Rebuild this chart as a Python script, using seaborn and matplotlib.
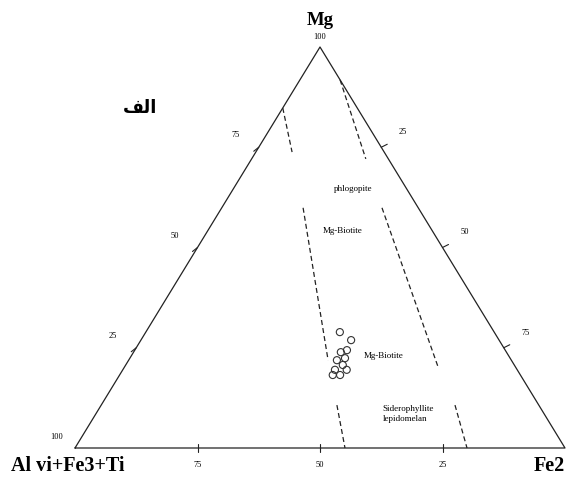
import numpy as np
import pandas as pd
import matplotlib
matplotlib.use("Agg")
import matplotlib.pyplot as plt
import seaborn as sns

# --- ternary data (fractions of Mg, Fe2; Al vi+Fe3+Ti is the remainder) ---
sample_mg = [0.289, 0.269, 0.244, 0.239, 0.224, 0.219, 0.207, 0.195, 0.195, 0.182, 0.182]
sample_fe = [0.396, 0.429, 0.433, 0.423, 0.439, 0.425, 0.443, 0.433, 0.457, 0.450, 0.435]

# field boundaries: (Mg, Fe2) at start and end of each dashed line
boundary_names = ["b1", "b2", "b3", "b4", "b5", "b6"]
boundary_mg_start = [0.848, 0.918, 0.599, 0.599, 0.107, 0.107]
boundary_fe_start = [0.000, 0.082, 0.166, 0.327, 0.481, 0.722]
boundary_mg_end = [0.738, 0.721, 0.219, 0.202, 0.000, 0.000]
boundary_fe_end = [0.074, 0.233, 0.407, 0.640, 0.551, 0.800]

field_labels = ["phlogopite", "Mg-Biotite", "Mg-Biotite", "Siderophyllite\nlepidomelan"]
field_mg = [0.645, 0.54, 0.23, 0.085]
field_fe = [0.205, 0.235, 0.475, 0.585]

tick_values = [75, 50, 25]


def to_xy(mg, fe):
    mg = np.asarray(mg, float)
    fe = np.asarray(fe, float)
    return fe + mg / 2.0, mg


sns.set_theme(style="white")
plt.rcParams["font.family"] = ["Liberation Serif", "DejaVu Serif"]
plt.rcParams["text.color"] = "black"

fig = plt.figure(figsize=(5.76, 4.82), dpi=100)
ax = fig.add_axes([0, 0, 1, 1])
ax.set_xlim(-75 / 490, (576 - 75) / 490)
ax.set_ylim(-(482 - 448) / 401, 448 / 401)
ax.axis("off")

px = 1 / 490  # one pixel in x data units
py = 1 / 401  # one pixel in y data units

# triangle outline
tri = pd.DataFrame({"x": [0, 0.5, 1, 0], "y": [0, 1, 0, 0], "o": range(4)})
sns.lineplot(data=tri, x="x", y="y", sort=False, estimator=None, color="#222222",
             lw=0.9, ax=ax)

# dashed field boundaries
rows = []
for n, m0, f0, m1, f1 in zip(boundary_names, boundary_mg_start, boundary_fe_start,
                             boundary_mg_end, boundary_fe_end):
    x0, y0 = to_xy(m0, f0)
    x1, y1 = to_xy(m1, f1)
    rows += [{"line": n, "x": float(x0), "y": float(y0), "o": 0},
             {"line": n, "x": float(x1), "y": float(y1), "o": 1}]
bd = pd.DataFrame(rows)
for n, g in bd.groupby("line"):
    sns.lineplot(data=g, x="x", y="y", sort=False, estimator=None, color="#222222",
                 lw=0.9, ls=(0, (4, 2.5)), ax=ax)

# samples
sx, sy = to_xy(sample_mg, sample_fe)
sns.scatterplot(x=sx, y=sy, marker="o", s=26, facecolor="none", edgecolor="#333333",
                linewidth=0.8, ax=ax)

# ticks and tick labels
tick_fs = 6
for v in tick_values:
    f = v / 100
    # left edge (Mg)
    x, y = to_xy(f, 0)
    ax.plot([x, x - 5 * px], [y, y - 4 * py], color="#222222", lw=0.8)
    ax.text(x - 23 * px, y + 12 * py, str(v), ha="center", va="center", fontsize=tick_fs)
    # right edge (Fe2)
    x, y = to_xy(1 - f, f)
    ax.plot([x, x + 6 * px], [y, y + 3 * py], color="#222222", lw=0.8)
    ax.text(x + 22 * px, y + 15 * py, str(v), ha="center", va="center", fontsize=tick_fs)
    # bottom edge (Al vi+Fe3+Ti)
    x = 1 - f
    ax.plot([x, x], [-4 * py, 4 * py], color="#222222", lw=0.8)
    ax.text(x, -17 * py, str(v), ha="center", va="center", fontsize=tick_fs)

ax.text(0.5, 1 + 10 * py, "100", ha="center", va="center", fontsize=tick_fs)
ax.text(-18 * px, 11 * py, "100", ha="center", va="center", fontsize=tick_fs)

# field names
for lab, m, f in zip(field_labels, field_mg, field_fe):
    x, y = to_xy(m, f)
    ax.text(x, y, lab, ha="left", va="center", fontsize=6.5, linespacing=1.4)

# apex labels
ax.text(0.5, 1 + 27 * py, "Mg", ha="center", va="center", fontsize=13.5, fontweight="bold")
ax.text(-64 * px, -18 * py, "Al vi+Fe3+Ti", ha="left", va="center", fontsize=14.5,
        fontweight="bold")
ax.text(1 - 16 * px, -18 * py, "Fe2", ha="center", va="center", fontsize=14.5,
        fontweight="bold")

# panel label (Arabic, presentation forms in visual order)
ax.text(140 * px - 75 * px, (448 - 108) * py, "\uFED2\uFEDF\uFE8D", ha="center",
        va="center", fontsize=13, fontweight="bold", family=["DejaVu Sans"])

fig.savefig("out.png", dpi=100)
